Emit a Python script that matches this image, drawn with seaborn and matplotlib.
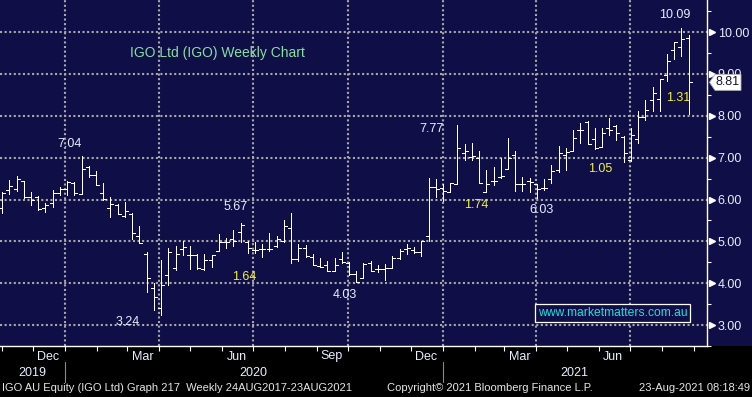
import numpy as np
import pandas as pd
import matplotlib
matplotlib.use("Agg")
import matplotlib.pyplot as plt
import matplotlib.dates as mdates
import matplotlib.transforms as mtrans
from matplotlib.patches import Rectangle, Polygon
import seaborn as sns

# weekly OHLC bars (IGO, Nov 2019 - Aug 2021)
opens = [5.80, 6.23, 6.25, 6.45, 6.06, 6.06, 5.80, 5.92, 6.16, 6.25, 6.39, 6.14,
         6.78, 6.59, 6.16, 5.80, 5.88, 5.60, 5.65, 5.13, 4.70, 3.88, 3.40, 4.20,
         4.37, 4.82, 4.67, 4.67, 4.35, 4.55, 4.78, 4.98, 5.06, 5.22, 4.98, 4.79,
         4.82, 4.82, 4.90, 5.00, 5.32, 4.58, 4.83, 4.62, 4.41, 4.44, 4.29, 4.57,
         4.49, 4.23, 4.13, 4.49, 4.35, 4.33, 4.37, 4.60, 4.82, 4.80, 4.74, 5.12,
         6.31, 6.28, 6.18, 6.36, 7.11, 7.02, 6.99, 6.17, 6.44, 6.54, 6.73, 7.07,
         6.36, 6.44, 6.36, 6.28, 6.50, 6.70, 7.06, 7.17, 7.66, 7.86, 7.44, 7.26,
         7.70, 7.75, 7.50, 6.94, 7.44, 7.98, 8.39, 8.41, 8.97, 9.58, 9.64, 9.87]
highs = [6.17, 6.47, 6.56, 6.45, 6.17, 6.08, 5.92, 6.23, 6.30, 6.45, 6.41, 7.04,
         6.80, 6.69, 6.39, 6.06, 5.90, 5.94, 5.67, 5.37, 4.75, 4.00, 4.55, 4.84,
         4.90, 5.00, 4.89, 4.70, 4.70, 4.67, 5.18, 5.07, 5.28, 5.44, 5.02, 4.98,
         4.94, 5.20, 5.14, 5.51, 5.67, 4.93, 4.91, 4.70, 4.60, 4.54, 4.60, 4.74,
         4.51, 4.30, 4.49, 4.52, 4.44, 4.47, 4.65, 4.82, 4.93, 4.86, 5.01, 6.52,
         6.50, 6.36, 6.40, 7.77, 7.33, 7.35, 7.15, 6.70, 6.78, 6.99, 7.46, 7.15,
         6.54, 6.52, 6.36, 6.48, 6.83, 7.27, 7.22, 7.66, 7.82, 7.87, 7.70, 7.70,
         7.94, 7.78, 7.52, 7.72, 8.12, 8.39, 8.69, 8.87, 9.47, 9.76, 10.09, 9.92]
lows = [5.69, 6.13, 6.20, 6.04, 5.86, 5.75, 5.70, 5.83, 6.12, 6.10, 6.10, 6.13,
        6.53, 6.35, 5.98, 5.59, 5.65, 5.59, 5.05, 4.95, 3.79, 3.37, 3.24, 3.96,
        4.31, 4.68, 4.35, 4.35, 4.31, 4.38, 4.76, 4.84, 4.90, 4.98, 4.73, 4.72,
        4.63, 4.76, 4.86, 4.98, 4.49, 4.52, 4.62, 4.43, 4.39, 4.29, 4.29, 4.49,
        4.19, 4.03, 4.13, 4.29, 4.27, 4.08, 4.37, 4.58, 4.70, 4.72, 4.65, 5.02,
        6.05, 5.97, 6.18, 6.36, 6.94, 6.95, 6.40, 6.17, 6.34, 6.52, 6.72, 6.20,
        6.20, 6.18, 6.03, 6.23, 6.40, 6.65, 6.71, 7.17, 7.34, 7.33, 7.20, 7.25,
        7.54, 7.42, 6.90, 6.93, 7.36, 7.91, 8.12, 8.12, 8.83, 9.37, 9.42, 8.05]
closes = [6.15, 6.33, 6.48, 6.05, 6.00, 5.77, 5.88, 6.16, 6.25, 6.43, 6.16, 6.74,
          6.59, 6.35, 6.02, 5.90, 5.65, 5.73, 5.20, 4.96, 4.13, 3.66, 3.96, 4.75,
          4.71, 4.86, 4.68, 4.37, 4.55, 4.67, 4.98, 4.98, 5.02, 5.39, 4.84, 4.79,
          4.82, 4.82, 5.06, 5.37, 4.58, 4.83, 4.65, 4.43, 4.39, 4.29, 4.44, 4.51,
          4.23, 4.04, 4.47, 4.29, 4.35, 4.37, 4.60, 4.78, 4.83, 4.74, 5.01, 6.30,
          6.26, 6.20, 6.39, 7.23, 7.15, 7.03, 6.40, 6.36, 6.44, 6.57, 6.99, 6.36,
          6.36, 6.42, 6.26, 6.28, 6.68, 7.11, 7.13, 7.48, 7.66, 7.33, 7.24, 7.58,
          7.66, 7.58, 7.12, 7.54, 7.98, 8.15, 8.55, 8.87, 9.31, 9.76, 9.84, 8.81]
first_week = "2019-11-01"
last_price = 8.81

price_ticks = [3, 4, 5, 6, 7, 8, 9, 10]
minor_price_ticks = [2.5, 3.5, 4.5, 5.5, 6.5, 7.5, 8.5, 9.5, 10.5]
quarter_lines = ["2020-01-01", "2020-04-01", "2020-07-01", "2020-10-01",
                 "2021-01-01", "2021-04-01", "2021-07-01"]
month_labels = ["Dec", "Mar", "Jun", "Sep", "Dec", "Mar", "Jun"]
month_label_dates = ["2019-12-16", "2020-03-16", "2020-06-15", "2020-09-15",
                     "2020-12-16", "2021-03-16", "2021-06-15"]
year_labels = ["2019", "2020", "2021"]
year_label_dates = ["2019-11-30", "2020-07-01", "2021-05-08"]
year_breaks = ["2020-01-01", "2021-01-01"]

# hi/lo and % labels Bloomberg put on the chart, with where they sit (pixels)
annot_text = ["7.04", "3.24", "5.67", "1.64", "4.03", "7.77", "1.74", "6.03", "1.05", "10.09", "1.31"]
annot_colour = ["w", "w", "w", "y", "w", "w", "y", "w", "y", "w", "y"]
annot_px = [(70, 144), (128, 322), (236, 207), (244, 277), (345, 295), (432, 129),
            (476, 205), (541, 210), (600, 169), (675, 15), (678, 98)]

W, H = 752, 397
NAVY = "#0f0e47"
WHITE = "#e9eeff"
YELLOW = "#f2f23a"

sns.set_style("dark", {"axes.facecolor": NAVY, "figure.facecolor": "black"})
plt.rcParams['font.family'] = ['Liberation Sans', 'DejaVu Sans']


def fx(x):
    return x / W


def fy(y):
    return 1 - y / H


fig = plt.figure(figsize=(W / 100, H / 100), dpi=100)
fig.patch.set_facecolor("black")
# navy band behind plot and the price scale
fig.patches.append(Rectangle((0, fy(346)), 1, 1 - fy(346), transform=fig.transFigure,
                             facecolor=NAVY, edgecolor="none", zorder=-1))

ax = fig.add_axes([0, fy(346), 707.3 / W, 346 / H])
ax.set_facecolor(NAVY)

dates = mdates.date2num(pd.date_range(first_week, periods=len(closes), freq="W-FRI"))
tick_days = 2.9
ax.vlines(dates, lows, highs, color="white", lw=0.72, antialiased=False)
ax.hlines(opens, dates - tick_days, dates, color="white", lw=0.72, antialiased=False)
ax.hlines(closes, dates, dates + tick_days, color="white", lw=0.72, antialiased=False)

ax.set_xlim(mdates.datestr2num("2019-10-30"), mdates.datestr2num("2021-09-14"))
ax.set_ylim(2.542, 10.768)

# grid
for p in price_ticks:
    ax.axhline(p, color="#a8a8a8", lw=1.5, ls=(0, (1, 1.2)), zorder=0.5)
for d in quarter_lines:
    ax.axvline(mdates.datestr2num(d), color="#a8a8a8", lw=1.5, ls=(0, (1, 1.2)), zorder=0.5)

for s in ["left", "top"]:
    ax.spines[s].set_visible(False)
for s in ["right", "bottom"]:
    ax.spines[s].set_visible(True)
    ax.spines[s].set_color("white")
    ax.spines[s].set_linewidth(1.0)

# price scale on the right
ax.yaxis.tick_right()
ax.set_yticks(price_ticks)
ax.set_yticklabels([f"{p:.2f}" for p in price_ticks])
ax.set_yticks(minor_price_ticks, minor=True)
ax.tick_params(axis="y", which="major", length=0, pad=7.5, labelsize=9, labelcolor=WHITE)
ax.tick_params(axis="y", which="minor", length=3, width=0.8, color="white", direction="out")
ybl = mtrans.blended_transform_factory(ax.transAxes, ax.transData)
ax.plot([1 + 4.5 / 707.3] * len(price_ticks), price_ticks, ls="none", marker=">",
        ms=5, color="white", transform=ybl, clip_on=False)

# month ticks along the bottom
ax.xaxis.set_major_locator(mdates.MonthLocator())
ax.xaxis.set_major_formatter(plt.NullFormatter())
ax.tick_params(axis="x", which="major", length=3.5, width=0.8, color="white",
               direction="out", bottom=True)
xbl = ax.get_xaxis_transform()
for lab, d in zip(month_labels, month_label_dates):
    ax.text(mdates.datestr2num(d), -10.5 / 346, lab, transform=xbl, ha="center",
            va="center", fontsize=9, color=WHITE)
for lab, d in zip(year_labels, year_label_dates):
    ax.text(mdates.datestr2num(d), -26.5 / 346, lab, transform=xbl, ha="center",
            va="center", fontsize=9, color=WHITE)
for d in year_breaks:
    ax.plot([mdates.datestr2num(d)] * 2, [-16 / 346, -36 / 346], color="#8a8a8a",
            lw=0.8, transform=xbl, clip_on=False)

# chart annotations
fig.text(fx(130), fy(53), "IGO Ltd (IGO) Weekly Chart", fontsize=10, color="#86e0a0",
         ha="left", va="center")
for t, c, (x, y) in zip(annot_text, annot_colour, annot_px):
    fig.text(fx(x), fy(y), t, fontsize=9, color=WHITE if c == "w" else YELLOW,
             ha="center", va="center")

fig.text(fx(612.5), fy(313), "www.marketmatters.com.au", fontsize=8.7, color="#20dede",
         ha="center", va="center",
         bbox=dict(boxstyle="square,pad=0.22", facecolor=NAVY, edgecolor="white", lw=0.9))

# last price flag (covers most of the 9.00 label, as in the original)
ly = 32.3 + (10 - last_price) * 42.06
flag = [(fx(709.5), fy(ly)), (fx(715), fy(ly - 8)), (fx(741), fy(ly - 8)),
        (fx(741), fy(ly + 8)), (fx(715), fy(ly + 8))]
fig.patches.append(Polygon(flag, closed=True, transform=fig.transFigure,
                           facecolor="white", edgecolor="#b0b0b0", lw=0.6, zorder=2))
fig.text(fx(728), fy(ly), f"{last_price:.2f}", fontsize=9, color="#141432",
         ha="center", va="center", zorder=4)

# footer
fig.text(fx(2), fy(388), "IGO AU Equity (IGO Ltd) Graph 217  Weekly 24AUG2017-23AUG2021",
         fontsize=8, color="#e6e6e6", ha="left", va="center")
fig.text(fx(490), fy(388), "Copyright\u00a9 2021 Bloomberg Finance L.P.",
         fontsize=8, color="#e6e6e6", ha="center", va="center")
fig.text(fx(750), fy(388), "23-Aug-2021 08:18:49",
         fontsize=8, color="#e6e6e6", ha="right", va="center")

fig.savefig("out.png", dpi=100, facecolor="black")
